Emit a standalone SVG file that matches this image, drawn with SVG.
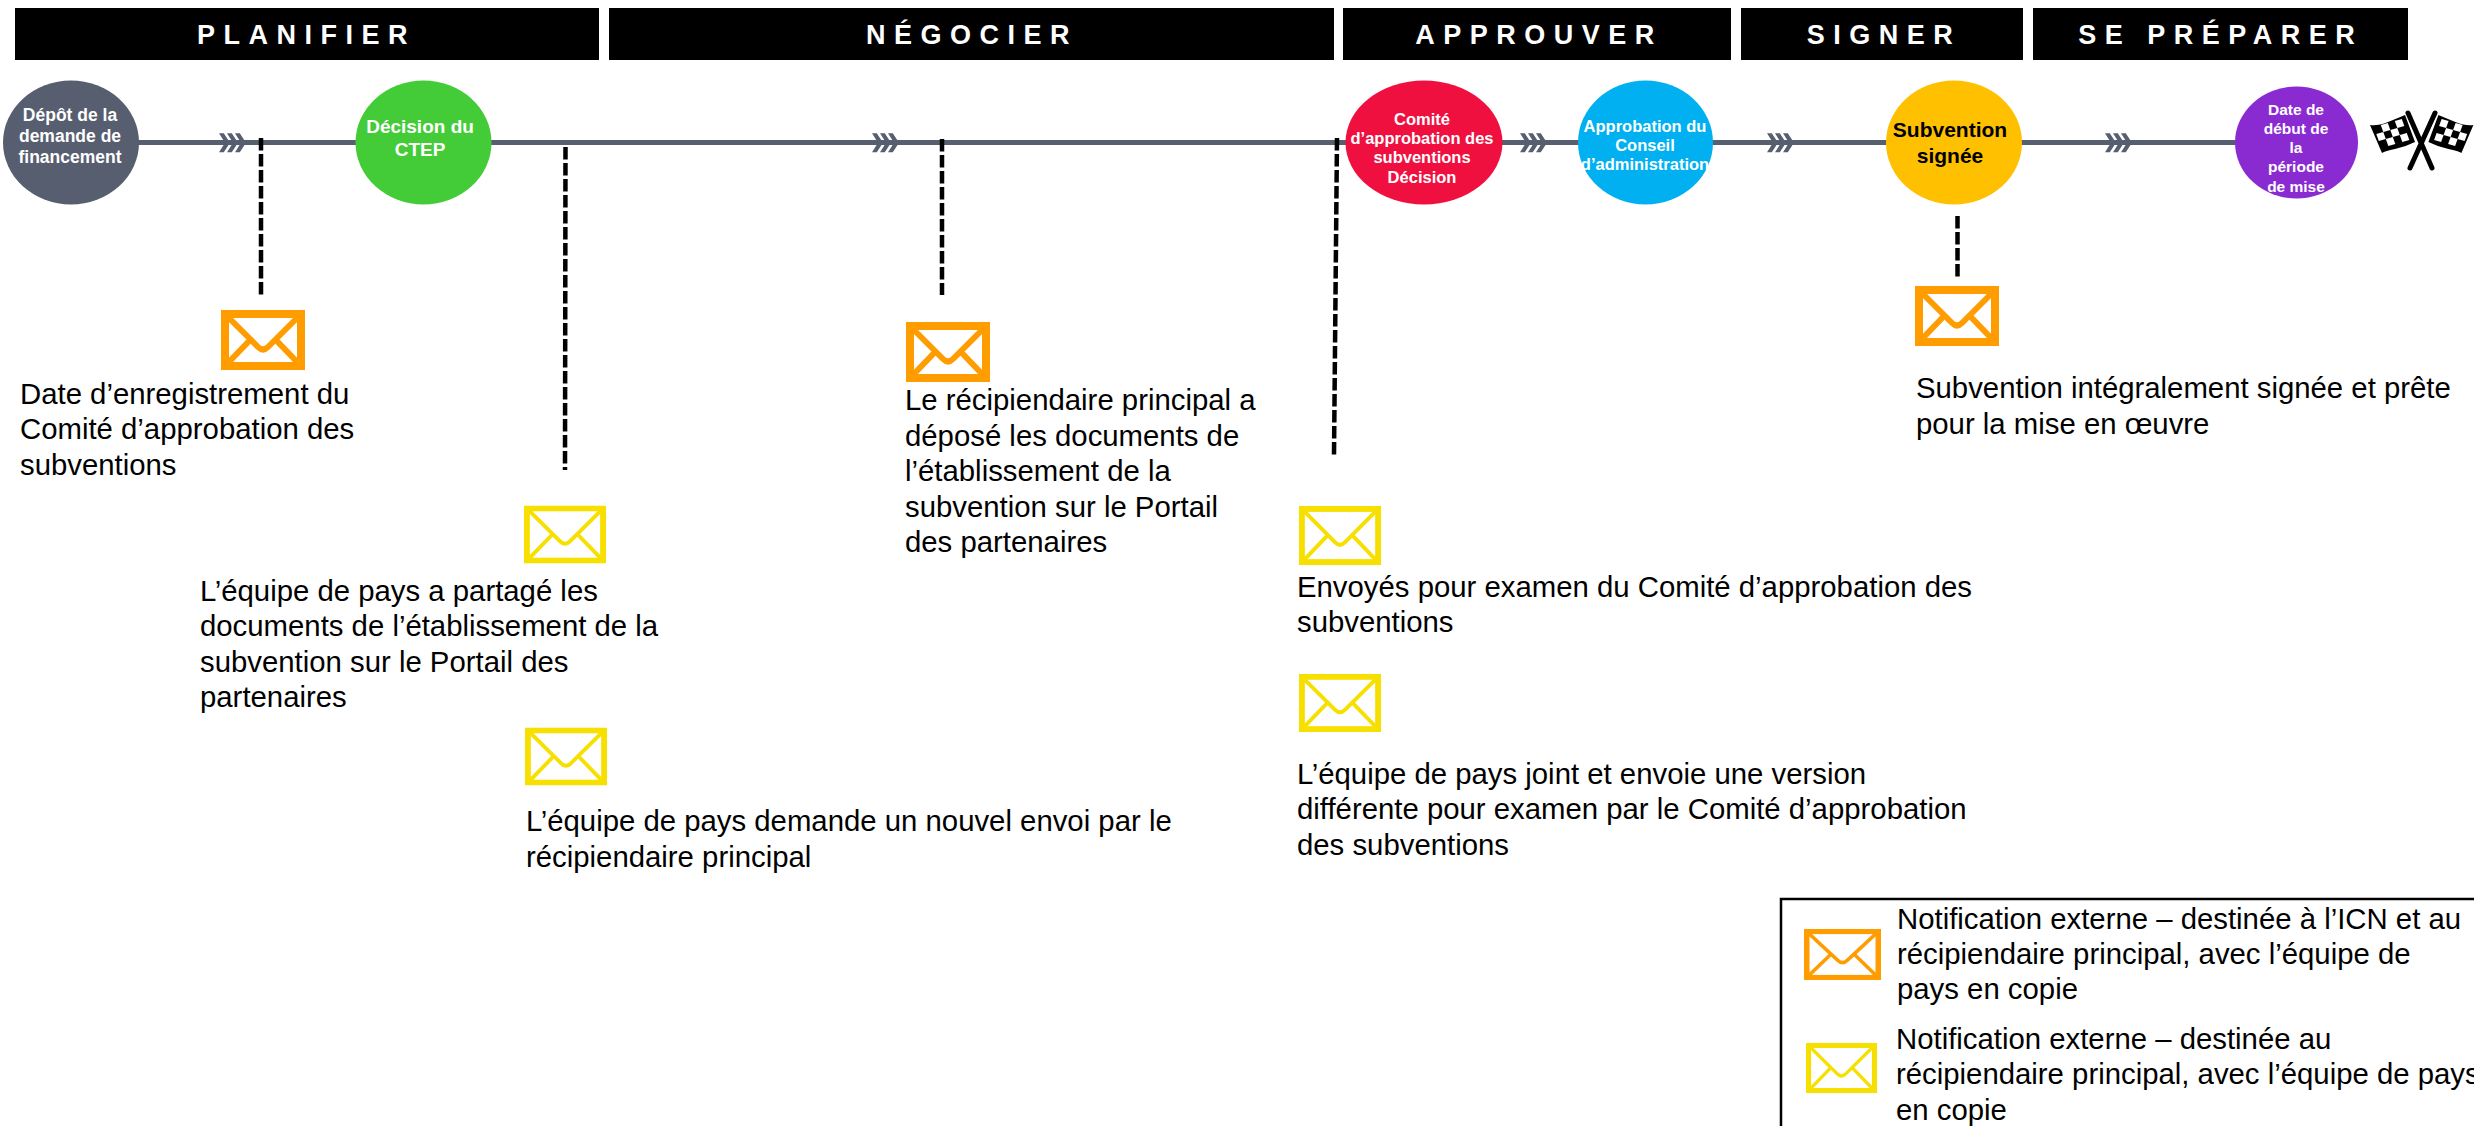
<svg xmlns="http://www.w3.org/2000/svg" width="2474" height="1126" viewBox="0 0 2474 1126">
<style>
text{font-family:"Liberation Sans",Arial,sans-serif}
.bar{fill:#000}
.hd{fill:#fff;font-size:27px;font-weight:700;letter-spacing:8.5px;text-anchor:middle}
.nd{fill:#fff;font-size:17.5px;font-weight:700;text-anchor:middle}
.lb{fill:#000;font-size:29.33px}
.dash{stroke:#000;stroke-width:4.5;stroke-dasharray:12.5 3.5;fill:none}
.axis{stroke:#565e70;stroke-width:5;fill:none}
.org{color:#ff9c00}.yel{color:#f7e000}
</style>
<defs>
<symbol id="env" viewBox="0 0 84 60" preserveAspectRatio="none">
<rect x="3" y="3" width="78" height="54" fill="#fff" stroke="currentColor" stroke-width="6"/>
<path d="M5 5L37 37Q42 42 47 37L79 5M5 55L30 29M79 55L54 29" fill="none" stroke="currentColor" stroke-width="4"/>
</symbol>
<symbol id="envb" viewBox="0 0 84 60" preserveAspectRatio="none">
<rect x="4" y="4" width="76" height="52" fill="#fff" stroke="currentColor" stroke-width="8"/>
<path d="M6 6L37 37Q42 42 47 37L78 6M6 54L30 29M78 54L54 29" fill="none" stroke="currentColor" stroke-width="6"/>
</symbol>
<polygon id="chv" fill="#565e70" points="0,0 4.8,0 11,9.5 4.8,19 0,19 6,9.5"/>
<g id="chvs"><use href="#chv"/><use href="#chv" x="8"/><use href="#chv" x="16"/></g>
<g id="flag">
<path d="M2370 125Q2378 126 2388 122T2405 115L2415 142Q2405 147 2395 149T2382 153Z" fill="#000"/>
<g fill="#fff" transform="matrix(7 -2 2.5 7 2373.8 127)">
<rect x="1" y="0" width="1" height="1"/><rect x="3" y="0" width="1" height="1"/>
<rect x="0" y="1" width="1" height="1"/><rect x="2" y="1" width="1" height="1"/>
<rect x="1" y="2" width="1" height="1"/><rect x="3" y="2" width="1" height="1"/>
</g>
</g>
</defs>
<g id="connectors">
<line class="axis" x1="135" y1="142.5" x2="2240" y2="142.5"/>
<use href="#chvs" x="219" y="133.3"/><use href="#chvs" x="872" y="133.3"/><use href="#chvs" x="1520" y="133.3"/><use href="#chvs" x="1767" y="133.3"/><use href="#chvs" x="2105" y="133.3"/>
<line class="dash" x1="261" y1="138" x2="261" y2="295"/>
<line class="dash" x1="565.5" y1="147" x2="565" y2="470"/>
<line class="dash" x1="942" y1="139" x2="942" y2="295"/>
<line class="dash" x1="1337" y1="138" x2="1334" y2="455"/>
<line class="dash" x1="1957.5" y1="216" x2="1957.5" y2="277"/>
</g>
<g id="phase-planifier"><rect class="bar" x="15" y="8" width="584" height="52"/><text class="hd" x="306.5" y="43.5">PLANIFIER</text></g>
<g id="phase-negocier"><rect class="bar" x="609" y="8" width="725" height="52"/><text class="hd" x="972" y="43.5">NÉGOCIER</text></g>
<g id="phase-approuver"><rect class="bar" x="1343" y="8" width="388" height="52"/><text class="hd" x="1539" y="43.5">APPROUVER</text></g>
<g id="phase-signer"><rect class="bar" x="1741" y="8" width="282" height="52"/><text class="hd" x="1884" y="43.5">SIGNER</text></g>
<g id="phase-preparer"><rect class="bar" x="2033" y="8" width="375" height="52"/><text class="hd" x="2220.7" y="43.5">SE PRÉPARER</text></g>
<g id="node-depot"><ellipse cx="71" cy="142.5" rx="68" ry="62" fill="#565e70"/><text class="nd" x="70" y="121">Dépôt de la</text><text class="nd" x="70" y="142">demande de</text><text class="nd" x="70" y="163">financement</text></g>
<g id="node-ctep"><ellipse cx="423.5" cy="142.5" rx="68" ry="62" fill="#44cc38"/><text class="nd" x="420" y="133" style="font-size:19px">Décision du</text><text class="nd" x="420" y="156" style="font-size:19px">CTEP</text></g>
<g id="node-comite"><ellipse cx="1424" cy="142.5" rx="78.5" ry="62" fill="#f01040"/><text class="nd" x="1422" y="125" style="font-size:16.5px">Comité</text><text class="nd" x="1422" y="144" style="font-size:16.5px">d’approbation des</text><text class="nd" x="1422" y="163" style="font-size:16.5px">subventions</text><text class="nd" x="1422" y="183" style="font-size:16.5px">Décision</text></g>
<g id="node-conseil"><ellipse cx="1645.5" cy="142.5" rx="67.5" ry="62" fill="#00b0f0"/><text class="nd" x="1645" y="132" style="font-size:16.5px">Approbation du</text><text class="nd" x="1645" y="151" style="font-size:16.5px">Conseil</text><text class="nd" x="1645" y="170" style="font-size:16.5px">d’administration</text></g>
<g id="node-signee"><ellipse cx="1954" cy="142.5" rx="68" ry="62" fill="#ffc000"/><text class="nd" x="1950" y="137" style="fill:#000;font-size:21px">Subvention</text><text class="nd" x="1950" y="163" style="fill:#000;font-size:21px">signée</text></g>
<g id="node-date"><ellipse cx="2296.5" cy="142.5" rx="61.5" ry="56" fill="#8a2bd2"/><text class="nd" x="2296" y="115" style="font-size:15.5px">Date de</text><text class="nd" x="2296" y="134" style="font-size:15.5px">début de</text><text class="nd" x="2296" y="153" style="font-size:15.5px">la</text><text class="nd" x="2296" y="172" style="font-size:15.5px">période</text><text class="nd" x="2296" y="192" style="font-size:15.5px">de mise</text></g>
<g id="flags">
<use href="#flag"/><use href="#flag" transform="translate(4843.4 0) scale(-1 1)"/>
<path d="M2408 113L2432 168M2435 113L2410 168" stroke="#000" stroke-width="5" stroke-linecap="round" fill="none"/>
</g>
<g id="note-1"><use href="#envb" class="org" x="221" y="310" width="84" height="60"/><text class="lb"><tspan x="20" y="404">Date d’enregistrement du</tspan><tspan x="20" y="439">Comité d’approbation des</tspan><tspan x="20" y="475">subventions</tspan></text></g>
<g id="note-2"><use href="#env" class="yel" x="524" y="505.5" width="82" height="58"/><text class="lb"><tspan x="200" y="601">L’équipe de pays a partagé les</tspan><tspan x="200" y="636">documents de l’établissement de la</tspan><tspan x="200" y="672">subvention sur le Portail des</tspan><tspan x="200" y="707">partenaires</tspan></text></g>
<g id="note-3"><use href="#env" class="yel" x="525" y="727.5" width="82" height="58"/><text class="lb"><tspan x="526" y="831">L’équipe de pays demande un nouvel envoi par le</tspan><tspan x="526" y="867">récipiendaire principal</tspan></text></g>
<g id="note-4"><use href="#envb" class="org" x="906" y="322" width="84" height="60"/><text class="lb"><tspan x="905" y="410">Le récipiendaire principal a</tspan><tspan x="905" y="446">déposé les documents de</tspan><tspan x="905" y="481">l’établissement de la</tspan><tspan x="905" y="517">subvention sur le Portail</tspan><tspan x="905" y="552">des partenaires</tspan></text></g>
<g id="note-5"><use href="#env" class="yel" x="1299" y="506" width="82" height="59"/><text class="lb"><tspan x="1297" y="597">Envoyés pour examen du Comité d’approbation des</tspan><tspan x="1297" y="632">subventions</tspan></text></g>
<g id="note-6"><use href="#env" class="yel" x="1299" y="674" width="82" height="58"/><text class="lb"><tspan x="1297" y="784">L’équipe de pays joint et envoie une version</tspan><tspan x="1297" y="819">différente pour examen par le Comité d’approbation</tspan><tspan x="1297" y="855">des subventions</tspan></text></g>
<g id="note-7"><use href="#envb" class="org" x="1915" y="286" width="84" height="60"/><text class="lb"><tspan x="1916" y="398">Subvention intégralement signée et prête</tspan><tspan x="1916" y="434">pour la mise en œuvre</tspan></text></g>
<g id="legend"><rect x="1781" y="899" width="800" height="300" fill="#fff" stroke="#000" stroke-width="2.5"/>
<use href="#env" class="org" x="1804" y="929" width="77" height="51"/><use href="#env" class="yel" x="1806" y="1043" width="71" height="50"/>
<text class="lb"><tspan x="1897" y="929">Notification externe – destinée à l’ICN et au</tspan><tspan x="1897" y="964">récipiendaire principal, avec l’équipe de</tspan><tspan x="1897" y="999">pays en copie</tspan><tspan x="1896" y="1049">Notification externe – destinée au</tspan><tspan x="1896" y="1084">récipiendaire principal, avec l’équipe de pays</tspan><tspan x="1896" y="1120">en copie</tspan></text></g>
</svg>
